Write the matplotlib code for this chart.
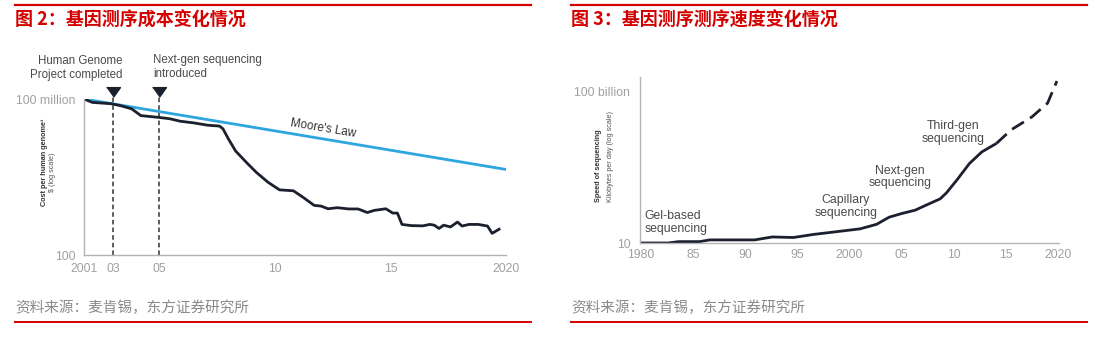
import numpy as np
import matplotlib
matplotlib.use("Agg")
import matplotlib.pyplot as plt
from matplotlib.ticker import NullLocator

plt.rcParams["font.family"] = ["Liberation Sans", "Noto Sans CJK SC", "DejaVu Sans"]

W, H = 1105, 343
RED = "#d40000"
NAVY = "#1c1f2e"
BLUE = "#2ba6e1"
GRAY_TICK = "#a0a0a0"
GRAY_TXT = "#4a4a4a"

# --- figure 2: cost per human genome ($, log scale) ---
cost_years = [2001.74, 2002.1, 2002.9, 2003.3, 2003.8, 2004.2, 2005.0, 2005.45, 2005.9,
              2006.5, 2007.1, 2007.6, 2007.75, 2008.0, 2008.3, 2008.8, 2009.2, 2009.7,
              2010.2, 2010.8, 2011.2, 2011.7, 2012.0, 2012.3, 2012.7, 2013.2, 2013.6,
              2014.0, 2014.3, 2014.8, 2015.1, 2015.3, 2015.5, 2015.9, 2016.4, 2016.7,
              2016.9, 2017.1, 2017.3, 2017.6, 2017.9, 2018.1, 2018.4, 2018.8, 2019.2,
              2019.4, 2019.7]
cost_values = [1.0e8, 7.4e7, 6.6e7, 5.6e7, 4.2e7, 2.3e7, 1.95e7, 1.74e7, 1.4e7,
               1.2e7, 9.8e6, 9.1e6, 7.2e6, 2.8e6, 1.0e6, 3.4e5, 1.5e5, 6.3e4,
               3.2e4, 2.95e4, 1.7e4, 8.1e3, 7.6e3, 6.0e3, 6.6e3, 5.9e3, 5.9e3,
               4.3e3, 5.2e3, 6.0e3, 4.1e3, 4.1e3, 1.5e3, 1.35e3, 1.32e3, 1.5e3,
               1.4e3, 1.05e3, 1.4e3, 1.2e3, 1.85e3, 1.3e3, 1.5e3, 1.5e3, 1.3e3,
               680, 980]
moore_years = [2001.74, 2020.0]
moore_values = [1.0e8, 1.95e5]
milestone_years = [2003, 2005]
cost_xticks = [2001.74, 2003, 2005, 2010, 2015, 2020]
cost_xlabels = ["2001", "03", "05", "10", "15", "2020"]
cost_yticks = [100, 1e8]
cost_ylabels = ["100", "100 million"]

# --- figure 3: sequencing speed (kilobytes per day, log scale) ---
speed_years = [1980.0, 1982.6, 1983.6, 1985.6, 1986.6, 1990.9, 1992.6, 1994.6, 1996.6,
               1998.6, 2001.0, 2002.6, 2003.8, 2005.0, 2006.3, 2007.3, 2008.7, 2009.3,
               2010.3, 2011.5, 2012.7, 2014.1]
speed_values = [10, 10, 12.3, 12.3, 16, 16, 25, 23, 37,
                54, 85, 170, 500, 870, 1.45e3, 3.0e3, 8.1e3, 2.0e4,
                1.4e5, 1.7e6, 1.0e7, 3.6e7]
proj_years = [2014.1, 2015.5, 2017.5, 2019.0, 2019.9]
proj_values = [3.6e7, 2.8e8, 2.0e9, 1.6e10, 4.6e11]
speed_xticks = [1980, 1985, 1990, 1995, 2000, 2005, 2010, 2015, 2020]
speed_xlabels = ["1980", "85", "90", "95", "2000", "05", "10", "15", "2020"]
speed_yticks = [10, 1e11]
speed_ylabels = ["10", "100 billion"]
era_labels = ["Gel-based\nsequencing", "Capillary\nsequencing",
              "Next-gen\nsequencing", "Third-gen\nsequencing"]
era_x = [1980.3, 1999.65, 2004.83, 2009.9]
era_y = [230, 2.6e3, 2.2e5, 1.8e8]
era_ha = ["left", "center", "center", "center"]


def px(x, y):
    return x / W, 1 - y / H


def box(x0, y0, x1, y1):
    return [x0 / W, 1 - y1 / H, (x1 - x0) / W, (y1 - y0) / H]


def style_axes(ax):
    for s in ["top", "right"]:
        ax.spines[s].set_visible(False)
    for s in ["left", "bottom"]:
        ax.spines[s].set_color("#b4b4b4")
        ax.spines[s].set_linewidth(1.0)
    ax.set_yscale("log")
    ax.yaxis.set_minor_locator(NullLocator())
    ax.xaxis.set_minor_locator(NullLocator())
    ax.tick_params(length=0, labelsize=8.8, labelcolor=GRAY_TICK)
    ax.patch.set_alpha(0)


fig = plt.figure(figsize=(W / 100, H / 100), dpi=100)

# frame: red rules, titles, sources
for x0, x1 in [(15, 531), (571, 1087)]:
    fig.add_artist(plt.Line2D([x0 / W, x1 / W], [1 - 5 / H] * 2, color=RED, lw=1.6))
    fig.add_artist(plt.Line2D([x0 / W, x1 / W], [1 - 322 / H] * 2, color=RED, lw=1.4))
fig.text(*px(15, 20), "图 2：基因测序成本变化情况", color=RED, fontsize=13,
         fontweight="bold", va="center", family=["Noto Sans CJK SC", "DejaVu Sans"])
fig.text(*px(571, 20), "图 3：基因测序测序速度变化情况", color=RED, fontsize=13,
         fontweight="bold", va="center", family=["Noto Sans CJK SC", "DejaVu Sans"])
for x0 in [15, 571]:
    fig.text(*px(x0, 308), "资料来源：麦肯锡，东方证券研究所", color="#8a8a8a",
             fontsize=10.5, va="center", family=["Noto Sans CJK SC", "DejaVu Sans"])

# ---- left chart ----
ax1 = fig.add_axes(box(84, 99, 506, 255))
style_axes(ax1)
ax1.set_xlim(2001.74, 2020)
ax1.set_ylim(100, 1e8)
ax1.plot(moore_years, moore_values, color=BLUE, lw=2.0, solid_capstyle="butt")
ax1.plot(cost_years, cost_values, color=NAVY, lw=2.0, solid_joinstyle="round")
ax1.vlines(milestone_years, 100, 1.5e8, colors="#333333", linestyles=(0, (3, 2)),
           lw=1.1, clip_on=False, zorder=1)
ax1.plot(milestone_years, [1.85e8] * 2, ls="none", color=NAVY, clip_on=False,
         marker=[(-1, 0.7), (1, 0.7), (0, -0.7)], ms=10)
ax1.set_xticks(cost_xticks, cost_xlabels)
ax1.set_yticks(cost_yticks, cost_ylabels)
ax1.tick_params(axis="x", pad=5.5)
ax1.tick_params(axis="y", pad=6)
ax1.text(2012.09, 7.1e6, "Moore's Law", rotation=-9.5, fontsize=8.5, color="#333333",
         ha="center", va="center", rotation_mode="anchor")

fig.text(*px(122, 68), "Human Genome\nProject completed", ha="right", va="center",
         fontsize=8.3, color=GRAY_TXT, linespacing=1.15)
fig.text(*px(153, 67), "Next-gen sequencing\nintroduced", ha="left", va="center",
         fontsize=8.3, color=GRAY_TXT, linespacing=1.15)
fig.text(*px(45, 162), "Cost per human genome\u00b9", rotation=90, ha="center",
         va="center", fontsize=5.2, fontweight="bold", color="#333333")
fig.text(*px(52, 172), "$ (log scale)", rotation=90, ha="center", va="center",
         fontsize=5.2, color="#555555")

# ---- right chart ----
ax2 = fig.add_axes(box(640, 77, 1059, 243))
style_axes(ax2)
ax2.set_xlim(1979.9, 2020.1)
ax2.set_ylim(10, 10 ** 11.93)
ax2.plot(speed_years, speed_values, color=NAVY, lw=2.0, solid_capstyle="butt")
ax2.plot(proj_years, proj_values, color=NAVY, lw=2.0, ls=(0, (5, 2.6)),
         dash_capstyle="butt", clip_on=False)
ax2.set_xticks(speed_xticks, speed_xlabels)
ax2.set_yticks(speed_yticks, speed_ylabels)
ax2.tick_params(axis="x", pad=4.5)
ax2.tick_params(axis="y", pad=7)
for label, x, y, ha in zip(era_labels, era_x, era_y, era_ha):
    ax2.text(x, y, label, ha=ha, va="center", fontsize=8.8, color=GRAY_TXT,
             linespacing=1.1)

fig.text(*px(599, 166), "Speed of sequencing", rotation=90, ha="center",
         va="center", fontsize=5.2, fontweight="bold", color="#333333")
fig.text(*px(610, 156), "Kilobytes per day (log scale)", rotation=90, ha="center",
         va="center", fontsize=5.2, color="#555555")

fig.savefig("out.png", dpi=100)
